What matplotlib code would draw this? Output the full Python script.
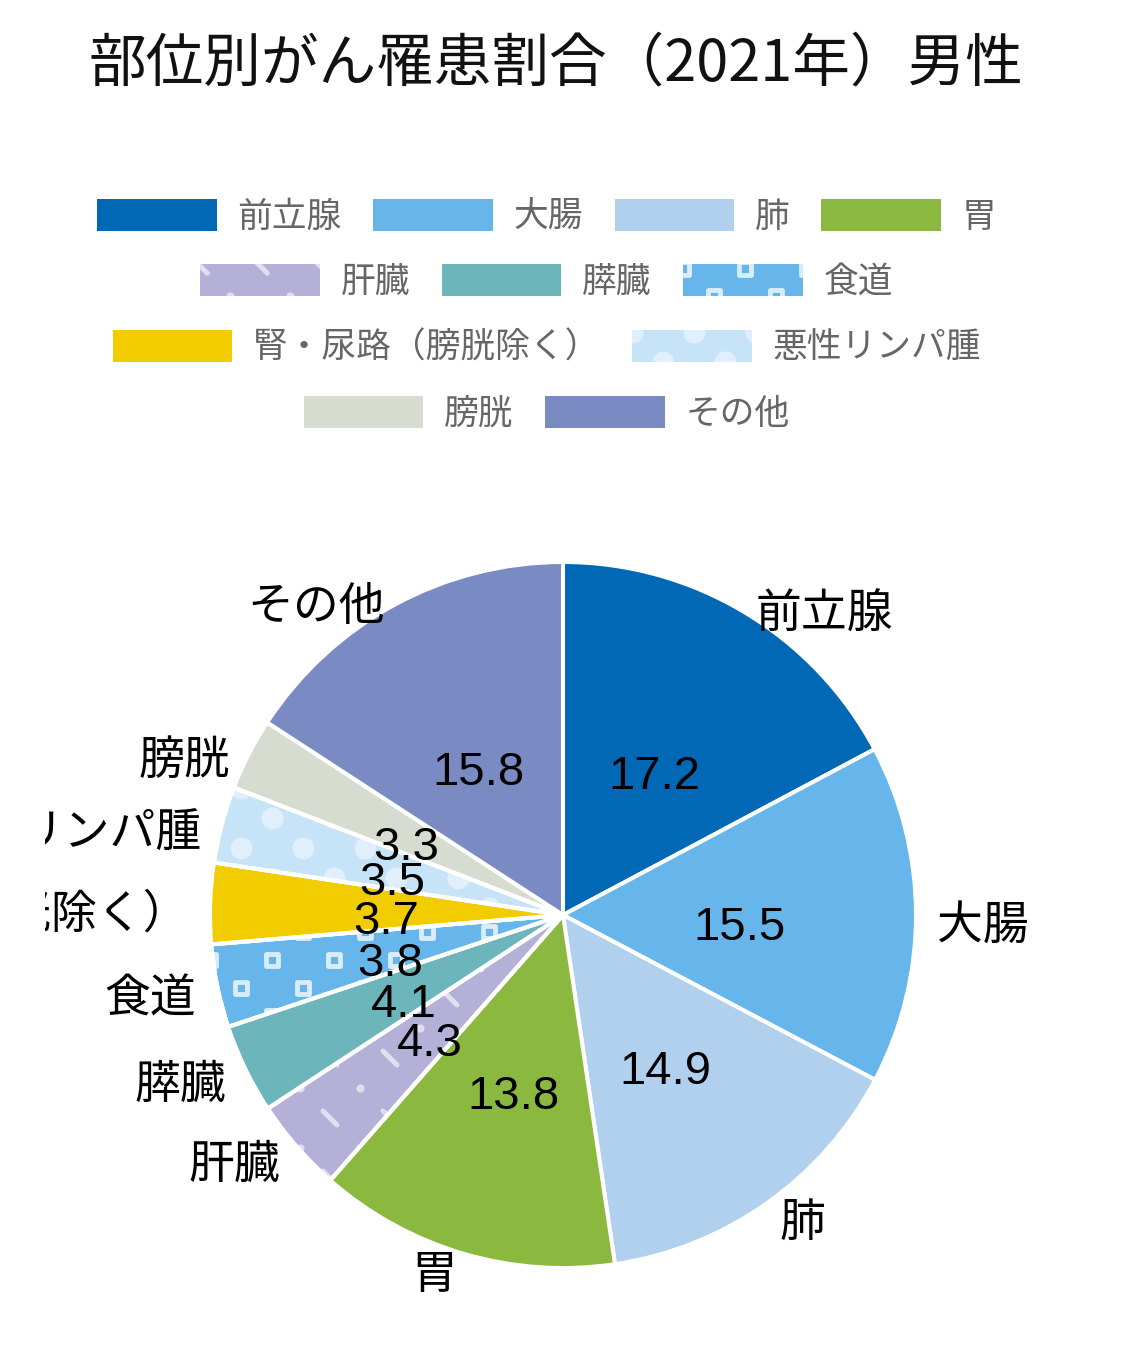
import numpy as np
import matplotlib
matplotlib.use("Agg")
import matplotlib.pyplot as plt
from matplotlib.patches import Patch, Rectangle, Wedge
from matplotlib.collections import LineCollection

plt.rcParams['font.family'] = ['Noto Sans CJK JP', 'DejaVu Sans']

TITLE = "部位別がん罹患割合（2021年）男性"

sites = ["前立腺", "大腸", "肺", "胃", "肝臓", "膵臓", "食道",
         "腎・尿路（膀胱除く）", "悪性リンパ腫", "膀胱", "その他"]
values = [17.2, 15.5, 14.9, 13.8, 4.3, 4.1, 3.8, 3.7, 3.5, 3.3, 15.8]
colors = ["#0068b5", "#67b6eb", "#b0d0ee", "#8bb83f", "#b5b0d8", "#6cb5ba",
          "#67b6eb", "#f1cd00", "#c7e3f8", "#d6dcd0", "#7a8bc4"]
patterns = [None, None, None, None, "dash", None, "square",
            None, "dot", None, None]
legend_rows = [[0, 1, 2, 3], [4, 5, 6], [7, 8], [9, 10]]
legend_y = [217, 282, 348, 414]

W, H = 1125, 1348
CX, CY, R = 563, 915, 353
EDGE_LW = 2.9


def stagger(x0, x1, y0, y1, dx, dy):
    pts = []
    for i, y in enumerate(np.arange(y0 - dy, y1 + dy, dy)):
        off = dx / 2 if i % 2 else 0
        for x in np.arange(x0 - dx + off, x1 + dx, dx):
            pts.append((x, y, i % 2))
    return np.array(pts)


def draw_pattern(ax, kind, clip, x0, x1, y0, y1):
    if kind == "square":
        p = stagger(x0, x1, y0, y1, 62, 28)
        sc = ax.scatter(p[:, 0], p[:, 1], s=85, marker="s", facecolor="none",
                        edgecolor="white", linewidths=3.5, alpha=0.75, zorder=3)
        sc.set_clip_path(clip)
    elif kind == "dot":
        p = stagger(x0, x1, y0, y1, 62, 30)
        sc = ax.scatter(p[:, 0], p[:, 1], s=250, marker="o", color="white",
                        linewidths=0, alpha=0.45, zorder=3)
        sc.set_clip_path(clip)
    elif kind == "dash":
        p = stagger(x0, x1, y0, y1, 60, 30)
        d = p[p[:, 2] == 0]
        segs = [[(x - 7, y + 7), (x + 7, y - 7)] for x, y, _ in d]
        lc = LineCollection(segs, colors="white", linewidths=3.6, alpha=0.6,
                            capstyle="round", zorder=3)
        ax.add_collection(lc)
        lc.set_clip_path(clip)
        o = p[p[:, 2] == 1]
        sc = ax.scatter(o[:, 0], o[:, 1], s=34, marker="o", color="white",
                        linewidths=0, alpha=0.6, zorder=3)
        sc.set_clip_path(clip)


fig = plt.figure(figsize=(W / 100, H / 100), dpi=100)

fig.text(556 / W, 1 - 64 / H, TITLE, ha="center", va="center",
         fontsize=41.5, color="#111111")

# legend, one fig.legend per row
legends = []
for row, y in zip(legend_rows, legend_y):
    handles = [Patch(facecolor=colors[i], edgecolor="none") for i in row]
    leg = fig.legend(handles, [sites[i] for i in row], loc="center",
                     bbox_to_anchor=(0.486, 1 - y / H), ncol=len(row),
                     frameon=False, fontsize=25, handlelength=3.45,
                     handleheight=1.05, handletextpad=0.6, columnspacing=0.9,
                     labelcolor="#666666", borderaxespad=0)
    legends.append((leg, row))

# pie
ax = fig.add_axes([45 / W, 8 / H, (1110 - 45) / W, (1340 - 480) / H])
total = sum(values)
wedges, texts, autotexts = ax.pie(
    values, labels=sites, colors=colors, startangle=90, counterclock=False,
    radius=R, labeldistance=1.06, pctdistance=0.5,
    autopct=lambda p: f"{p * total / 100:.1f}",
    wedgeprops=dict(edgecolor="white", linewidth=EDGE_LW),
    textprops=dict(fontsize=33, color="black"))
for t in autotexts:
    t.set_family("Liberation Sans")
    t.set_fontsize(34)
    t.set_zorder(6)
    x, y = t.get_position()
    t.set_position((x, y - 13))
for t in texts:
    t.set_fontsize(33)
    t.set_clip_on(True)
    x, y = t.get_position()
    t.set_position((x, y - 11 * (1 + y / (1.06 * R))))
ax.set_xlim(45 - CX, 1110 - CX)
ax.set_ylim(CY - 1340, CY - 480)
ax.set_axis_off()

for w, kind in zip(wedges, patterns):
    if kind:
        draw_pattern(ax, kind, w, -R, R, -R, R)
        edge = Wedge(w.center, w.r, w.theta1, w.theta2, facecolor="none",
                     edgecolor="white", linewidth=EDGE_LW, zorder=4)
        ax.add_patch(edge)

# patterns on legend handles
fig.canvas.draw()
ov = fig.add_axes([0, 0, 1, 1], zorder=7)
ov.set_xlim(0, W)
ov.set_ylim(0, H)
ov.set_axis_off()
for leg, row in legends:
    for patch, i in zip(leg.get_patches(), row):
        if patterns[i]:
            bb = patch.get_window_extent()
            clip = Rectangle((bb.x0, bb.y0), bb.width, bb.height,
                             facecolor="none", edgecolor="none")
            ov.add_patch(clip)
            draw_pattern(ov, patterns[i], clip, bb.x0, bb.x1, bb.y0, bb.y1)

fig.savefig("out.png", dpi=100)
